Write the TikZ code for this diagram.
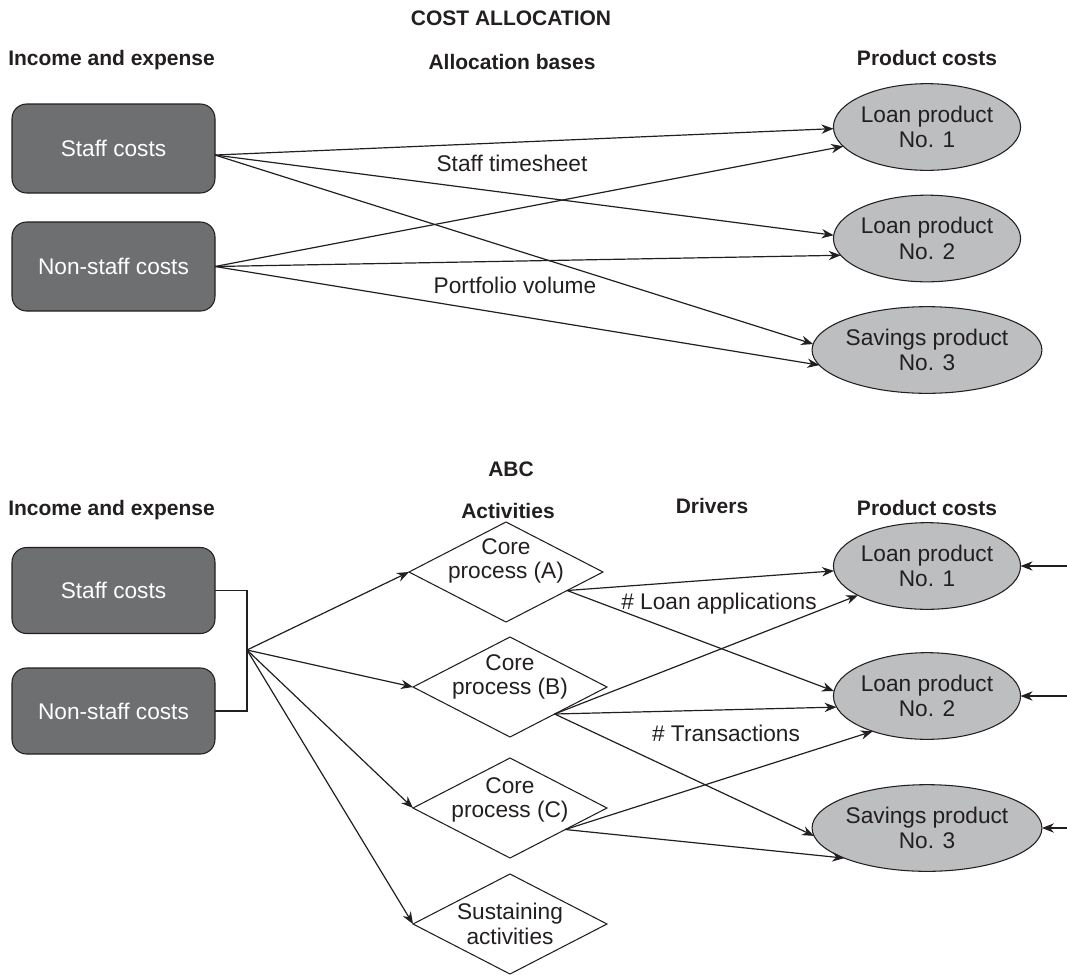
\documentclass[tikz,border=0pt]{standalone}
\usepackage{fontspec}
\setmainfont{Liberation Sans}
\usetikzlibrary{shapes.geometric,arrows.meta,calc}
\definecolor{boxgray}{HTML}{6E6F71}
\definecolor{ellgray}{HTML}{BCBEC0}
\definecolor{ink}{HTML}{231F20}
\begin{document}
\begin{tikzpicture}[x=0.75pt,y=-0.75pt,
  costbox/.style={draw=ink, fill=boxgray, line width=0.8pt, rounded corners=11pt, minimum width=152.25pt, minimum height=66.75pt, inner sep=0pt, outer sep=0pt, text=white, font=\fontsize{17}{20}\selectfont},
  prod/.style={ellipse, draw=ink, fill=ellgray, line width=0.8pt, minimum width=138pt, minimum height=65pt, inner sep=0pt, outer sep=0pt, align=center, text=ink, font=\fontsize{17}{19}\selectfont},
  act/.style={diamond, draw=ink, line width=0.8pt, minimum width=145.5pt, minimum height=75pt, inner sep=0pt, outer sep=0pt},
  acttext/.style={align=center, text=ink, inner sep=0pt, font=\fontsize{17}{18.5}\selectfont},
  head/.style={font=\bfseries\fontsize{15.75}{18}\selectfont, text=ink, anchor=base, inner sep=0pt},
  lbl/.style={font=\fontsize{17}{20}\selectfont, text=ink, anchor=base, inner sep=0pt},
  arr/.style={draw=ink, line width=0.9pt, -{Stealth[length=9pt,width=7pt]}},
  ln/.style={draw=ink, line width=0.9pt}
]
\useasboundingbox (0,0) rectangle (1067,975);

% ---------- COST ALLOCATION ----------
\node[head] (t1) at (511,25) {COST ALLOCATION};
\node[head] (h1) at (512,69) {Allocation bases};
\node[head, anchor=base west] (h2) at (8,65) {Income and expense};
\node[head] (h3) at (927,65) {Product costs};

\node[costbox] (S1) at (113.5,148.5) {Staff costs};
\node[costbox] (N1) at (113.5,266.5) {Non-staff costs};

\node[prod] (L1t) at (927,127) {Loan product\\No. 1};
\node[prod] (L2t) at (927,238.5) {Loan product\\No. 2};
\node[prod] (S3t) at (927,350) {Savings product\\No. 3};

\draw[arr] ([yshift=-4.9pt]S1.east) -- (L1t.181);
\draw[arr] ([yshift=-4.9pt]S1.east) -- (L2t.178);
\draw[arr] ([yshift=-4.9pt]S1.east) -- (S3t.177);
\draw[arr] (N1.east) -- (L1t.193);
\draw[arr] (N1.east) -- (L2t.191);
\draw[arr] (N1.east) -- (S3t.188.5);

\node[lbl] (st) at (512,171) {Staff timesheet};
\node[lbl] (pv) at (515,293) {Portfolio volume};

% ---------- ABC ----------
\node[head] (t2) at (511,476) {ABC};
\node[head, anchor=base west] (h4) at (8,515) {Income and expense};
\node[head] (h5) at (508,518) {Activities};
\node[head] (h6) at (712,513) {Drivers};
\node[head] (h7) at (927,515) {Product costs};

\node[costbox, minimum height=64.5pt] (S2) at (113.5,590.5) {Staff costs};
\node[costbox, minimum height=64.5pt] (N2) at (113.5,711) {Non-staff costs};

\node[act] (A) at (506,572) {};
\node[act] (B) at (510,687) {};
\node[act] (C) at (510,808) {};
\node[act] (D) at (510,924) {};
\node[acttext] (At) at (506,561) {Core\\process (A)};
\node[acttext] (Bt) at (510,677) {Core\\process (B)};
\node[acttext] (Ct) at (510,800) {Core\\process (C)};
\node[acttext] (Dt) at (510,924) {Sustaining\\activities};

\node[prod] (L1b) at (927,566) {Loan product\\No. 1};
\node[prod] (L2b) at (927,696) {Loan product\\No. 2};
\node[prod] (S3b) at (927,828) {Savings product\\No. 3};

\coordinate (J) at (247,650);
\draw[ln] (S2.east) -- (S2.east -| J) -- (N2.east -| J) -- (N2.east);

\draw[arr] (J) -- (A.west);
\draw[arr] (J) -- (B.west);
\draw[arr] (J) -- (C.west);
\draw[arr] (J) -- (D.west);

\coordinate (Ao) at ($(A.east)!0.37!(A.south)$);
\coordinate (Bo) at ($(B.east)!0.54!(B.south)$);
\coordinate (Co) at ($(C.east)!0.43!(C.south)$);

\draw[arr] (Ao) -- (L1b.183);
\draw[arr] (Ao) -- (L2b.177);
\draw[arr] (Bo) -- (L1b.203);
\draw[arr] (Bo) -- (L2b.187.5);
\draw[arr] (Bo) -- (S3b.184.5);
\draw[arr] (Co) -- (L2b.213);
\draw[arr] (Co) -- (S3b.200.5);

\node[lbl] (la) at (719,609) {\# Loan applications};
\node[lbl] (tr) at (726,741) {\# Transactions};

\coordinate (r1) at (1067,566);
\coordinate (r2) at (1067,696);
\coordinate (r3) at (1067,828);
\draw[arr] (r1) -- (L1b.east);
\draw[arr] (r2) -- (L2b.east);
\draw[arr] (r3) -- (S3b.east);
\end{tikzpicture}
\end{document}
